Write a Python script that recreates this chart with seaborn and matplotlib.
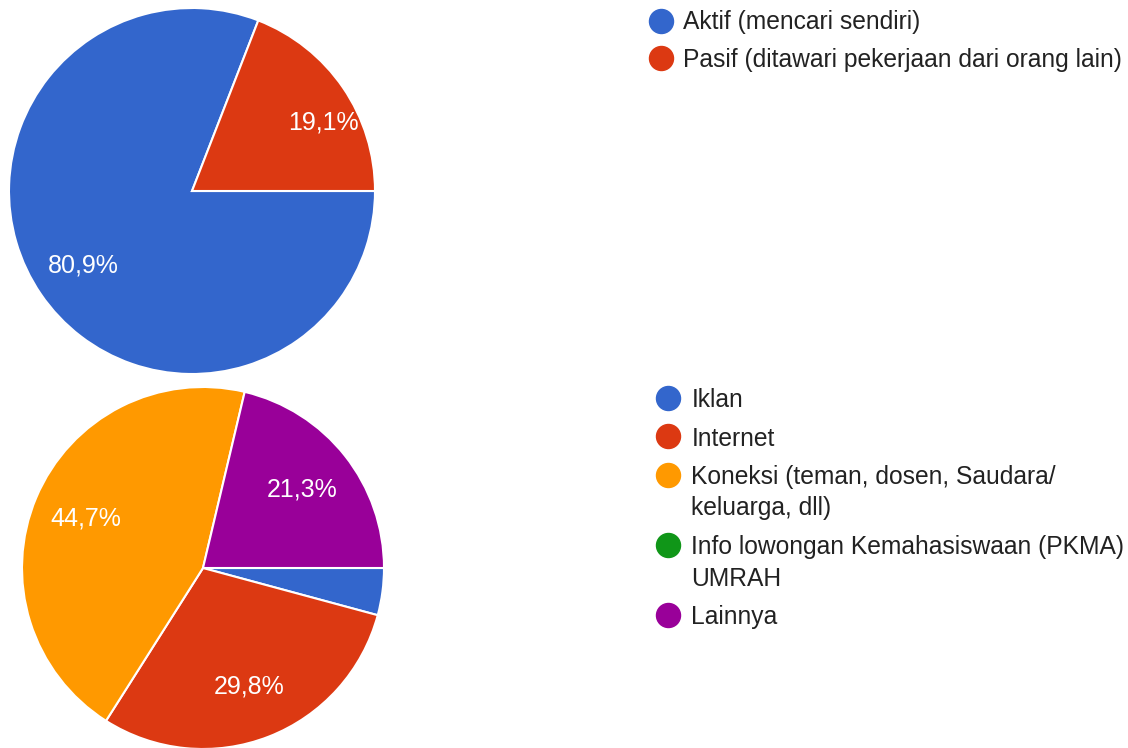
import matplotlib
matplotlib.use("Agg")
import matplotlib.pyplot as plt
from matplotlib.lines import Line2D
import seaborn as sns

# data
cara_labels = ["Aktif (mencari sendiri)", "Pasif (ditawari pekerjaan dari orang lain)"]
cara_values = [80.9, 19.1]

sumber_labels = ["Iklan", "Internet", "Koneksi (teman, dosen, Saudara/\nkeluarga, dll)",
                 "Info lowongan Kemahasiswaan (PKMA)\nUMRAH", "Lainnya"]
sumber_values = [4.2, 29.8, 44.7, 0.0, 21.3]

google = ["#3366cc", "#dc3912", "#ff9900", "#109618", "#990099"]

sns.set_theme(style="white")
plt.rcParams['font.family'] = ['Liberation Sans', 'DejaVu Sans']

W, H = 1128, 748
fig = plt.figure(figsize=(W / 100, H / 100), dpi=100)


def pct_fmt(p):
    # hide tiny slices like google forms does
    if p < 5:
        return ""
    return f"{p:.1f}%".replace(".", ",")


def draw_pie(cx, cy, r, values, colors, dist):
    ax = fig.add_axes([(cx - r) / W, (H - cy - r) / H, 2 * r / W, 2 * r / H])
    nz = [(v, c) for v, c in zip(values, colors) if v > 0]
    wedges, texts, autotexts = ax.pie(
        [v for v, c in nz], colors=[c for v, c in nz], startangle=0,
        counterclock=False, autopct=pct_fmt, pctdistance=dist,
        wedgeprops=dict(edgecolor="white", linewidth=1.5),
        textprops=dict(color="white", fontsize=18), radius=1.0)
    ax.set_xlim(-1, 1)
    ax.set_ylim(-1, 1)
    ax.set_aspect("equal")
    ax.axis("off")
    return ax, autotexts


def draw_legend(labels, colors, x, y, pad, pitch):
    # google forms style legend: dot on first line, wrapped lines under the text
    for lab, c in zip(labels, colors):
        fig.add_artist(Line2D([x / W], [1 - y / H], marker="o", linestyle="",
                              markersize=17.3, markerfacecolor=c, markeredgecolor=c,
                              transform=fig.transFigure))
        lines = lab.split("\n")
        for i, ln in enumerate(lines):
            fig.text((x + pad) / W, 1 - (y + 9 + 31.5 * i) / H, ln, fontsize=17.7,
                     color="#222222", va="baseline", ha="left")
        y += 31.5 * (len(lines) - 1) + pitch


ax1, t1 = draw_pie(192, 191, 183, cara_values, google[:2], 0.72)
# second label sits further out in the source
t1[1].set_position((0.716, 0.372))

ax2, t2 = draw_pie(203, 568, 181, sumber_values, google, 0.70)

draw_legend(cara_labels, google[:2], 661, 20.5, 22, 37.5)
draw_legend(sumber_labels, google, 667.5, 398, 24, 38.5)

plt.savefig("out.png", dpi=100)
